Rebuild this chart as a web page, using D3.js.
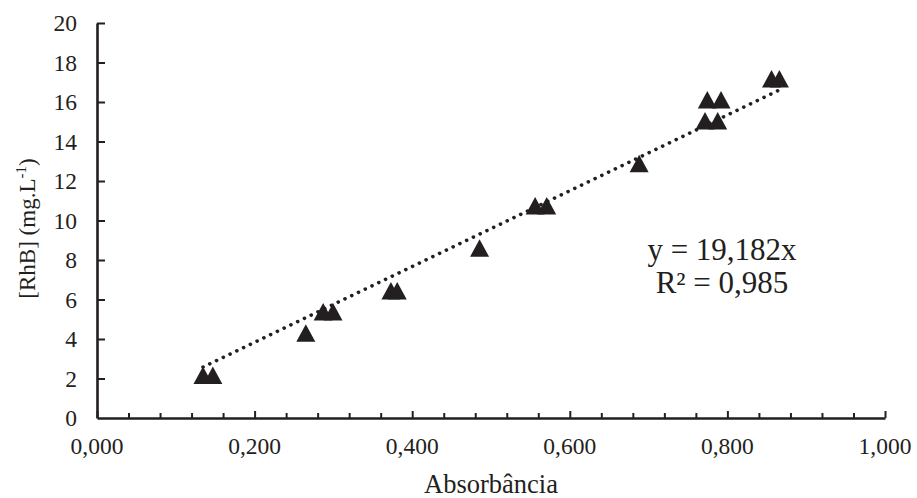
<!DOCTYPE html>
<html>
<head>
<meta charset="utf-8">
<script src="https://cdn.jsdelivr.net/npm/d3@7"></script>
<style>
    body { margin: 0; background: #fff; }
    text { font-family: "Liberation Serif", "Times New Roman", serif; fill: #231f20; }
</style>
</head>
<body>
<div id="chart"></div>
<script>
const absorbance = [0.1345, 0.147, 0.265, 0.287, 0.2995, 0.373, 0.381, 0.4855, 0.556, 0.5707, 0.688, 0.7716, 0.7877, 0.7745, 0.7919, 0.856, 0.866];
const concentration = [2.13, 2.13, 4.27, 5.34, 5.34, 6.4, 6.4, 8.57, 10.71, 10.71, 12.85, 15.01, 15.01, 16.08, 16.08, 17.14, 17.14];
const slope = 19.182;
const xTicks = [0, 0.2, 0.4, 0.6, 0.8, 1.0];
const yTicks = [0, 2, 4, 6, 8, 10, 12, 14, 16, 18, 20];
const equationLines = ["y = 19,182x", "R² = 0,985"];

const margin = { top: 23, right: 32, bottom: 80, left: 97 };
const width = 917 - margin.left - margin.right;
const height = 498 - margin.top - margin.bottom;
const ink = "#231f20";

const fmt = d => d3.format(".3f")(d).replace(".", ",");

function createCalibrationChart() {
    const svg = d3.select("#chart")
        .append("svg")
        .attr("width", width + margin.left + margin.right)
        .attr("height", height + margin.top + margin.bottom)
        .append("g")
        .attr("transform", `translate(${margin.left},${margin.top})`);

    const x = d3.scaleLinear()
        .domain([0, 1])
        .range([0, width]);

    const y = d3.scaleLinear()
        .domain([0, 20])
        .range([height, 0]);

    // trendline over the data range
    const xmin = d3.min(absorbance);
    const xmax = d3.max(absorbance);
    svg.append("line")
        .attr("x1", x(xmin))
        .attr("y1", y(slope * xmin))
        .attr("x2", x(xmax))
        .attr("y2", y(slope * xmax))
        .attr("stroke", ink)
        .attr("stroke-width", 3.6)
        .attr("stroke-linecap", "round")
        .attr("stroke-dasharray", "0.1 7.4");

    // triangle markers
    const data = absorbance.map((a, i) => ({ a: a, c: concentration[i] }));
    const tri = "M0,-9L9.5,8.5L-9.5,8.5Z";
    svg.selectAll(".pt")
        .data(data)
        .enter()
        .append("path")
        .attr("class", "pt")
        .attr("d", tri)
        .attr("transform", d => `translate(${x(d.a)},${y(d.c) - 0.5})`)
        .attr("fill", ink);

    // x axis with inward ticks
    const xAxis = svg.append("g")
        .attr("transform", `translate(0,${height})`)
        .call(d3.axisBottom(x).tickValues(d3.range(0, 1.0001, 0.04)).tickSize(0).tickFormat(""));
    xAxis.select(".domain").attr("stroke", ink).attr("stroke-width", 2.6);
    xAxis.selectAll(".tick line")
        .attr("y2", (d, i) => i % 5 === 0 ? -7 : -5)
        .attr("stroke", ink)
        .attr("stroke-width", 2);

    svg.selectAll(".xlab")
        .data(xTicks)
        .enter()
        .append("text")
        .attr("class", "xlab")
        .attr("x", d => x(d))
        .attr("y", height + 36)
        .attr("text-anchor", "middle")
        .style("font-size", "23.5px")
        .text(fmt);

    // y axis
    const yAxis = svg.append("g")
        .call(d3.axisLeft(y).tickValues(yTicks).tickSize(0).tickFormat(""));
    yAxis.select(".domain").attr("stroke", ink).attr("stroke-width", 2.6);
    yAxis.selectAll(".tick line")
        .attr("x2", d => d === 0 ? 0 : 8)
        .attr("stroke", ink)
        .attr("stroke-width", 2);

    svg.selectAll(".ylab")
        .data(yTicks)
        .enter()
        .append("text")
        .attr("class", "ylab")
        .attr("x", -20)
        .attr("y", d => y(d))
        .attr("dy", "0.35em")
        .attr("text-anchor", "end")
        .style("font-size", "23.5px")
        .text(d => d);

    // axis titles
    svg.append("text")
        .attr("x", width / 2)
        .attr("y", height + 75)
        .attr("text-anchor", "middle")
        .style("font-size", "26.5px")
        .text("Absorbância");

    const yt = svg.append("text")
        .attr("transform", "rotate(-90)")
        .attr("x", -(height / 2) - 8)
        .attr("y", -62)
        .attr("text-anchor", "middle")
        .style("font-size", "23px");
    yt.append("tspan").text("[RhB] (mg.L");
    yt.append("tspan").attr("dy", -9).style("font-size", "15px").text("-1");
    yt.append("tspan").attr("dy", 9).text(")");

    // equation
    svg.selectAll(".eq")
        .data(equationLines)
        .enter()
        .append("text")
        .attr("class", "eq")
        .attr("x", 625)
        .attr("y", (d, i) => 237 + i * 33)
        .attr("text-anchor", "middle")
        .style("font-size", "31px")
        .text(d => d);
}

document.addEventListener("DOMContentLoaded", function() {
    createCalibrationChart();
});
</script>
</body>
</html>
